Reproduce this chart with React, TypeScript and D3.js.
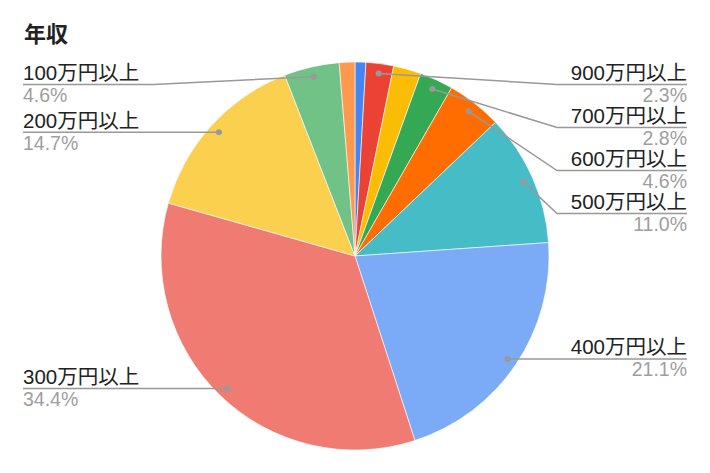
import React from "react";
import * as d3 from "d3";

const title = "年収";
const categories = [
  "1000万円以上",
  "900万円以上",
  "800万円以上",
  "700万円以上",
  "600万円以上",
  "500万円以上",
  "400万円以上",
  "300万円以上",
  "200万円以上",
  "100万円以上",
  "100万円未満",
];
const values = [0.9, 2.3, 2.3, 2.8, 4.6, 11.0, 21.1, 34.4, 14.7, 4.6, 1.3];
const showLabel = [false, true, false, true, true, true, true, true, true, true, false];
const colors = [
  "#4285F4",
  "#EA4335",
  "#FBBC04",
  "#34A853",
  "#FF6D01",
  "#46BDC6",
  "#7BAAF7",
  "#F07B72",
  "#FCD04F",
  "#71C287",
  "#FF994D",
];

const W = 710;
const H = 473;
const cx = 355;
const cy = 256;
const R = 194;
const dotR = 184;
const minLabelY = 84.5;
const spacing = 43;
const rightX = 687;
const leftX = 23;
const FONT = "'Liberation Sans', 'Noto Sans CJK JP', sans-serif";

export default function App() {
  const total = d3.sum(values);
  const pie = d3
    .pie<number>()
    .sort(null)
    .value((d) => d)(values);
  const arc = d3.arc<d3.PieArcDatum<number>>().innerRadius(0).outerRadius(R);

  type Lab = { i: number; dx: number; dy: number; y: number; right: boolean };
  const labs: Lab[] = [];
  pie.forEach((p, i) => {
    if (!showLabel[i]) return;
    const a = (p.startAngle + p.endAngle) / 2;
    const dx = cx + dotR * Math.sin(a);
    const dy = cy - dotR * Math.cos(a);
    labs.push({ i, dx, dy, y: dy, right: a < Math.PI });
  });
  const layout = (side: Lab[]) => {
    const sorted = side.slice().sort((a, b) => a.dy - b.dy);
    let prev = -Infinity;
    sorted.forEach((l) => {
      l.y = Math.max(l.dy, prev + spacing, minLabelY);
      prev = l.y;
    });
  };
  layout(labs.filter((l) => l.right));
  layout(labs.filter((l) => !l.right));

  return (
    <svg
      width={W}
      height={H}
      style={{ position: "fixed", left: 0, top: 0, background: "#fff" }}
      fontFamily={FONT}
    >
      <rect width={W} height={H} fill="#fff" />
      <text x={24} y={42} fontSize={22} fontWeight="bold" fill="#222">
        {title}
      </text>
      <g transform={`translate(${cx},${cy})`}>
        {pie.map((p, i) => (
          <path key={i} d={arc(p) || ""} fill={colors[i]} stroke="#fff" strokeWidth={0.6} />
        ))}
      </g>
      {labs.map((l) => {
        const bendX = l.right ? Math.max(l.dx, cx + R + 8) : Math.min(l.dx, cx - R - 8);
        const endX = l.right ? rightX : leftX;
        const pts: [number, number][] = [
          [l.dx, l.dy],
          [bendX, l.y],
          [endX, l.y],
        ];
        const pct = ((values[l.i] / total) * 100).toFixed(1) + "%";
        return (
          <g key={l.i}>
            <path d={d3.line()(pts) || ""} fill="none" stroke="#999" strokeWidth={1.5} />
            <circle cx={l.dx} cy={l.dy} r={3} fill="#999" />
            <text
              x={endX}
              y={l.y - 4.5}
              fontSize={20.5}
              fill="#222"
              textAnchor={l.right ? "end" : "start"}
            >
              {categories[l.i]}
            </text>
            <text
              x={endX}
              y={l.y + 17.5}
              fontSize={19.5}
              fill="#9e9e9e"
              textAnchor={l.right ? "end" : "start"}
            >
              {pct}
            </text>
          </g>
        );
      })}
    </svg>
  );
}
